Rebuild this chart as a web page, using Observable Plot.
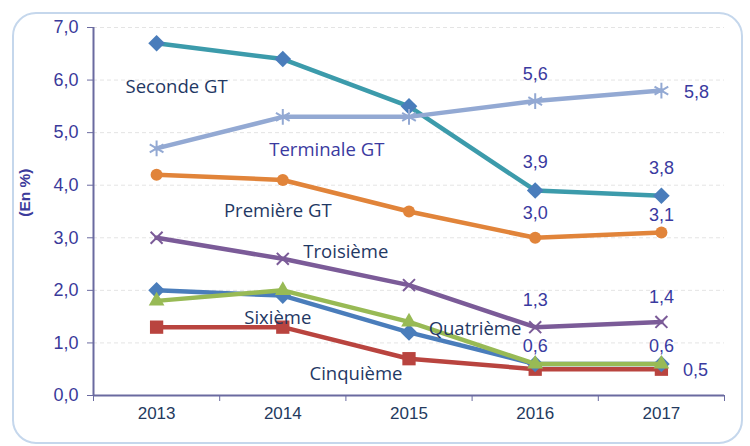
<!DOCTYPE html>
<html>
<head>
<meta charset="utf-8">
<script src="https://cdn.jsdelivr.net/npm/d3@7"></script>
<script src="https://cdn.jsdelivr.net/npm/@observablehq/plot@0.6"></script>
<style>
  body { margin: 0; background: #fff; }
  #wrap { position: relative; width: 750px; height: 446px; overflow: hidden; }
  #frame { position: absolute; left: 12px; top: 12px; width: 731px; height: 432px;
           border: 2px solid #c5d7ec; border-radius: 24px; box-sizing: border-box; }
  #chart { position: absolute; left: 0; top: 0; }
</style>
</head>
<body>
<div id="wrap"><div id="frame"></div><div id="chart"></div></div>
<script>
const years = [2013, 2014, 2015, 2016, 2017];
const seriesNames = ["Seconde GT", "Terminale GT", "Première GT", "Troisième", "Cinquième", "Sixième", "Quatrième"];
const seconde   = [6.7, 6.4, 5.5, 3.9, 3.8];
const terminale = [4.7, 5.3, 5.3, 5.6, 5.8];
const premiere  = [4.2, 4.1, 3.5, 3.0, 3.1];
const troisieme = [3.0, 2.6, 2.1, 1.3, 1.4];
const cinquieme = [1.3, 1.3, 0.7, 0.5, 0.5];
const sixieme   = [2.0, 1.9, 1.2, 0.6, 0.6];
const quatrieme = [1.8, 2.0, 1.4, 0.6, 0.6];
const yTicks = [0, 1, 2, 3, 4, 5, 6, 7];
const yAxisTitle = "(En %)";
const yAxisTitleAt = 3.4;

// value labels shown on the chart
const valueLabelYears  = [2016, 2017, 2016, 2017, 2016, 2017, 2016, 2017, 2016, 2017, 2017];
const valueLabelValues = [5.6, 5.8, 3.9, 3.8, 3.0, 3.1, 1.3, 1.4, 0.6, 0.6, 0.5];
// series name labels (anchored in data space)
const nameLabelYears  = [2013, 2014, 2014, 2014, 2014, 2015, 2015];
const nameLabelValues = [5.86, 4.66, 3.5, 2.72, 1.48, 1.27, 0.40];
const nameLabelTexts  = ["Seconde GT", "Terminale GT", "Première GT", "Troisième", "Sixième", "Quatrième", "Cinquième"];

const seriesValues = [seconde, terminale, premiere, troisieme, cinquieme, sixieme, quatrieme];
const lineColors   = ["#3c9bab", "#93a9d3", "#e1843a", "#7b5b98", "#b9443f", "#4a7dbb", "#98ba55"];
const markColors   = ["#4a7dbb", "#93a9d3", "#e1843a", "#7b5b98", "#b9443f", "#4a7dbb", "#98ba55"];
const symbols      = ["diamond2", "asterisk", "circle", "times", "square", "diamond2", "triangle2"];

// layout offsets (pixels) for labels
const valueDx = [0, 35, 0, 0, 0, 0, 0, 0, 0, 0, 34];
const valueDy = [-27, 2, -28, -27, -25, -17, -27, -25, -18, -18, 1];
const nameDx  = [20, 44, -5, 63, -5, 66, -53];
const nameColors = ["#1f3864", "#3a3aa0", "#1f3864", "#1f3864", "#1f3864", "#1f3864", "#1f3864"];

const fmt = v => v.toFixed(1).replace(".", ",");
const numFont = "Liberation Sans, Arial, sans-serif";

const rows = [];
seriesNames.forEach((name, i) => {
  years.forEach((yr, j) => rows.push({series: name, idx: i, year: yr, value: seriesValues[i][j]}));
});
const valueRows = valueLabelYears.map((yr, i) => ({year: yr, value: valueLabelValues[i], dx: valueDx[i], dy: valueDy[i]}));
const nameRows = nameLabelTexts.map((t, i) => ({text: t, year: nameLabelYears[i], value: nameLabelValues[i], dx: nameDx[i], color: nameColors[i]}));

const marks = [
  Plot.ruleY(yTicks.filter(d => d > 0), {stroke: "#e4e4e4", strokeDasharray: "4,3", strokeWidth: 1}),
  Plot.axisY({ticks: yTicks, tickFormat: () => "", tickSize: 6, stroke: "#6a6aa0", label: null}),
  Plot.text(yTicks, {y: d => d, text: fmt, frameAnchor: "left", dx: -15, textAnchor: "end",
    fontSize: 18, fontFamily: numFont, fill: "#3a3a9a"}),
  Plot.text(years, {x: d => d, text: d => String(d), frameAnchor: "bottom", dy: 23,
    fontSize: 17, fontFamily: numFont, fill: "#243a5e"}),
  Plot.axisX({ticks: [2012.5, 2013.5, 2014.5, 2015.5, 2016.5, 2017.5], tickFormat: () => "", tickSize: 6,
    stroke: "#6a6aa0", label: null}),
  Plot.ruleX([2012.5], {stroke: "#6a6aa0", strokeWidth: 2}),
  Plot.ruleY([0], {stroke: "#6a6aa0", strokeWidth: 2}),
];
seriesNames.forEach((name, i) => {
  const data = rows.filter(r => r.idx === i);
  marks.push(Plot.line(data, {x: "year", y: "value", stroke: lineColors[i], strokeWidth: 4.5}));
  const sym = symbols[i];
  const filled = sym !== "asterisk" && sym !== "times";
  const r = sym === "circle" ? 6 : sym === "times" ? 5.5 : 7.5;
  marks.push(Plot.dot(data, {x: "year", y: "value", symbol: sym, r,
    fill: filled ? markColors[i] : "none", stroke: markColors[i], strokeWidth: filled ? 0 : 2}));
});
valueRows.forEach(d => marks.push(Plot.text([d], {x: "year", y: "value", text: r => fmt(r.value), dx: d.dx, dy: d.dy,
  fontSize: 18, fontFamily: numFont, fill: "#3a3aa0"})));
nameRows.forEach(d => marks.push(Plot.text([d], {x: "year", y: "value", text: "text", dx: d.dx, fill: d.color,
  fontSize: 18.5, fontFamily: "Open Sans, sans-serif"})));
marks.push(Plot.text([yAxisTitle], {y: () => yAxisTitleAt, text: d => d, frameAnchor: "left", dx: -68, rotate: -90,
  fontSize: 15.5, fontWeight: "bold", fill: "#3b3b9b", fontFamily: numFont}));

const chart = Plot.plot({
  width: 750, height: 446,
  marginLeft: 93, marginRight: 26, marginTop: 27, marginBottom: 51,
  style: {background: "transparent", overflow: "visible", fontFamily: numFont},
  x: {type: "linear", domain: [2012.5, 2017.5]},
  y: {domain: [0, 7]},
  marks
});
document.getElementById("chart").appendChild(chart);
</script>
</body>
</html>
